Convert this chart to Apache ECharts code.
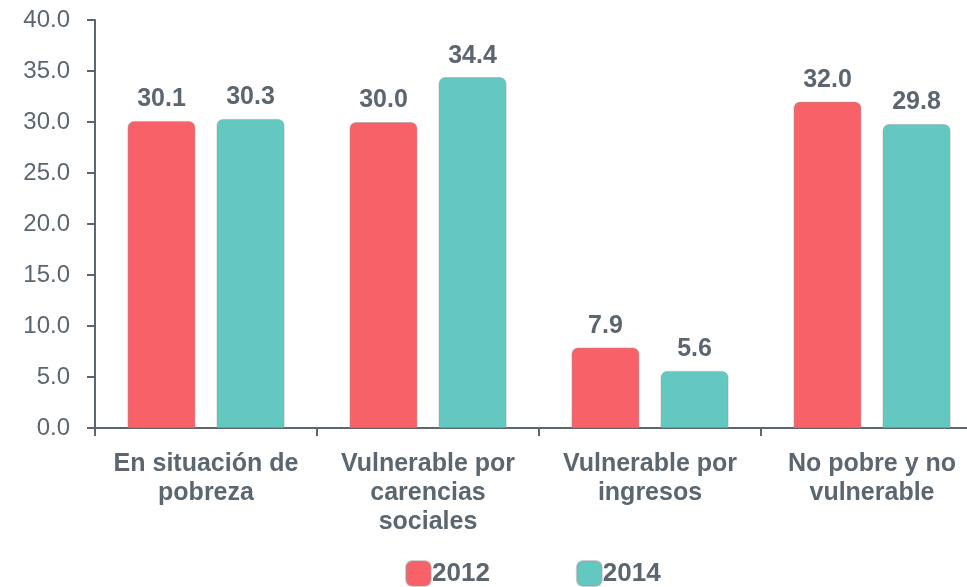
<!DOCTYPE html>
<html>
<head>
<meta charset="utf-8">
<script src="https://cdn.jsdelivr.net/npm/echarts@6/dist/echarts.min.js"></script>
<style>
  html, body { margin: 0; padding: 0; background: #ffffff; }
  #chart { width: 967px; height: 587px; }
</style>
</head>
<body>
<div id="chart"></div>
<script>
// Población por situación de pobreza y vulnerabilidad (%)
const categories = [
  'En situación de\npobreza',
  'Vulnerable por\ncarencias\nsociales',
  'Vulnerable por\ningresos',
  'No pobre y no\nvulnerable'
];
const values2012 = [30.1, 30.0, 7.9, 32.0];
const values2014 = [30.3, 34.4, 5.6, 29.8];
const seriesNames = ['2012', '2014'];

const textColor = '#5b6670';
const fontFamily = '"Liberation Sans", Arial, Helvetica, sans-serif';

const chart = echarts.init(document.getElementById('chart'), null, { renderer: 'canvas' });

function barSeries(name, data, color) {
  return {
    name: name,
    type: 'bar',
    data: data,
    barWidth: 68,
    barGap: '31%',
    itemStyle: {
      color: color,
      borderColor: 'rgba(150,150,150,0.45)',
      borderWidth: 1,
      borderRadius: [6, 6, 0, 0]
    },
    label: {
      show: true,
      position: 'top',
      distance: 9,
      color: textColor,
      fontFamily: fontFamily,
      fontWeight: 'bold',
      fontSize: 25,
      formatter: p => p.value.toFixed(1)
    }
  };
}

chart.setOption({
  animation: false,
  backgroundColor: '#ffffff',
  // the plot runs on past the right edge of the page
  grid: {
    left: 95, width: 888, top: 20, bottom: 159,
    containLabel: false,
    outerBoundsMode: 'none'
  },
  legend: {
    top: 555,
    left: 400,
    itemWidth: 25,
    itemHeight: 25,
    itemGap: 86,
    icon: 'roundRect',
    textStyle: {
      color: textColor,
      fontFamily: fontFamily,
      fontWeight: 'bold',
      fontSize: 26,
      padding: [0, 0, 0, -4]
    },
    data: seriesNames
  },
  xAxis: {
    type: 'category',
    data: categories,
    axisLine: { show: true, lineStyle: { color: '#5b6670', width: 2 } },
    axisTick: { show: true, length: 8, lineStyle: { color: '#5b6670', width: 2 } },
    axisLabel: {
      color: textColor,
      fontFamily: fontFamily,
      fontWeight: 'bold',
      fontSize: 25,
      lineHeight: 29,
      margin: 22,
      interval: 0
    }
  },
  yAxis: {
    type: 'value',
    min: 0,
    max: 40,
    interval: 5,
    axisLine: { show: true, lineStyle: { color: '#5b6670', width: 2 } },
    axisTick: { show: true, length: 8, lineStyle: { color: '#5b6670', width: 2 } },
    splitLine: { show: false },
    axisLabel: {
      color: textColor,
      fontFamily: fontFamily,
      fontSize: 24,
      margin: 25,
      formatter: v => v.toFixed(1)
    }
  },
  series: [
    barSeries(seriesNames[0], values2012, '#f96168'),
    barSeries(seriesNames[1], values2014, '#63c8c0')
  ]
});
</script>
</body>
</html>
